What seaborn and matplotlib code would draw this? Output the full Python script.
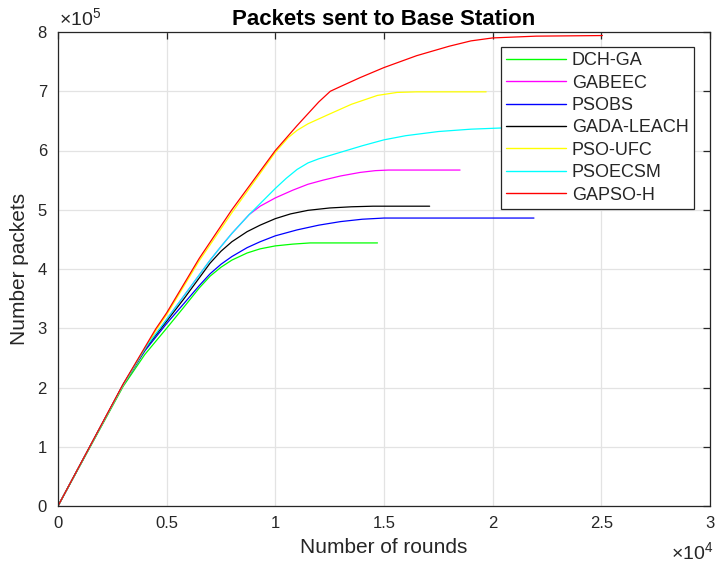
import numpy as np
import pandas as pd
import matplotlib
matplotlib.use("Agg")
import matplotlib.pyplot as plt
from matplotlib.ticker import FuncFormatter
import seaborn as sns

# ---------------- data (rounds, packets) ----------------
methods = ["DCH-GA", "GABEEC", "PSOBS", "GADA-LEACH", "PSO-UFC", "PSOECSM", "GAPSO-H"]
colors = ["#00FF00", "#FF00FF", "#0000FF", "#000000", "#FFFF00", "#00FFFF", "#FF0000"]

dch_x = [0, 3000, 4000, 5000, 5800, 6500, 7000, 7500, 8000, 8700, 9300, 10000, 10800, 11600, 14700]
dch_y = [0, 202000, 256000, 300000, 336000, 368000, 388000, 403000, 415000, 427000, 434000, 439000, 442000, 444000, 444000]

gab_x = [0, 3000, 4000, 5000, 5800, 6500, 7000, 7500, 8000, 8800, 9300, 10000, 10800, 11500, 12200, 13000, 13900, 14600, 15200, 18500]
gab_y = [0, 205000, 266000, 315000, 355000, 390000, 415000, 438000, 460000, 492000, 506000, 520000, 533000, 543000, 550000, 557000, 563000, 566000, 567000, 567000]

pso_x = [0, 3000, 4000, 5000, 5800, 6500, 7000, 7500, 8000, 8700, 9300, 10000, 11000, 12000, 13000, 14000, 15000, 21900]
pso_y = [0, 204000, 262000, 308000, 342000, 372000, 392000, 408000, 421000, 436000, 446000, 456000, 466000, 474000, 480000, 484000, 486000, 486000]

gada_x = [0, 3000, 4000, 5000, 5800, 6500, 7000, 7500, 8000, 8700, 9300, 10000, 10700, 11500, 12500, 13500, 14500, 17100]
gada_y = [0, 205000, 265000, 312000, 350000, 385000, 410000, 430000, 446000, 463000, 474000, 485000, 493000, 499000, 503000, 505000, 506000, 506000]

ufc_x = [0, 3000, 4500, 5000, 6500, 8000, 9000, 10000, 10600, 11000, 11500, 12400, 13500, 14700, 15600, 16500, 19700]
ufc_y = [0, 204000, 296000, 323000, 414000, 495000, 546000, 597000, 622000, 634000, 645000, 660000, 678000, 693000, 698000, 699000, 699000]

ecsm_x = [0, 3000, 4000, 5000, 5800, 6500, 7000, 7500, 8000, 8800, 9400, 10000, 10500, 11000, 11500, 12000, 13000, 14000, 15000, 16000, 17500, 19000, 20400, 22000]
ecsm_y = [0, 205000, 266000, 315000, 355000, 390000, 415000, 438000, 460000, 492000, 514000, 536000, 553000, 568000, 579000, 586000, 597000, 608000, 618000, 625000, 632000, 636000, 638000, 638000]

gapso_x = [0, 3000, 4500, 5000, 6500, 8000, 9000, 10000, 11000, 12000, 12530, 13000, 13900, 15000, 16500, 18000, 19000, 20000, 22000, 25050]
gapso_y = [0, 206000, 299000, 326000, 418000, 500000, 550000, 600000, 642000, 682000, 700000, 708000, 723000, 740000, 760000, 776000, 785000, 790000, 793000, 794000]

series_x = [dch_x, gab_x, pso_x, gada_x, ufc_x, ecsm_x, gapso_x]
series_y = [dch_y, gab_y, pso_y, gada_y, ufc_y, ecsm_y, gapso_y]

x_ticks = [0, 5000, 10000, 15000, 20000, 25000, 30000]
y_ticks = [0, 100000, 200000, 300000, 400000, 500000, 600000, 700000, 800000]

rows = []
for m, xs, ys in zip(methods, series_x, series_y):
    for i, (xv, yv) in enumerate(zip(xs, ys)):
        rows.append({"rounds": xv, "packets": yv, "method": m, "idx": i})
df = pd.DataFrame(rows)

# ---------------- style ----------------
sns.set_style("white")
plt.rcParams["font.family"] = ["Liberation Sans", "DejaVu Sans"]
plt.rcParams["mathtext.fontset"] = "custom"
plt.rcParams["mathtext.rm"] = "Liberation Sans"

fig = plt.figure(figsize=(7.17, 5.73), dpi=100)
ax = fig.add_axes([58 / 717, 1 - 506 / 573, (710 - 58) / 717, (506 - 32) / 573])

sns.lineplot(data=df, x="rounds", y="packets", hue="method", hue_order=methods,
             palette=dict(zip(methods, colors)), sort=False, estimator=None,
             units="method", linewidth=0.9, ax=ax, legend=True)

ax.set_xlim(0, 30000)
ax.set_ylim(0, 800000)
ax.set_xticks(x_ticks)
ax.set_yticks(y_ticks)
ax.xaxis.set_major_formatter(FuncFormatter(lambda v, p: f"{v / 1e4:g}"))
ax.yaxis.set_major_formatter(FuncFormatter(lambda v, p: f"{v / 1e5:g}"))

ax.grid(True, color="#e3e3e3", linewidth=0.9)
ax.set_axisbelow(True)
for s in ax.spines.values():
    s.set_color("#262626")
    s.set_linewidth(0.9)
ax.tick_params(direction="in", top=True, right=True, length=5, width=0.9,
               color="#262626", labelsize=12, labelcolor="#262626")
ax.tick_params(axis="y", pad=8)
ax.tick_params(axis="x", pad=7)

ax.set_title("Packets sent to Base Station", fontsize=16, fontweight="bold", pad=5, color="#000000")
ax.set_xlabel("Number of rounds", fontsize=15, color="#262626", labelpad=5)
ax.set_ylabel("Number packets", fontsize=15, color="#262626", labelpad=6)

ax.text(0.002, 1.006, r"$\mathregular{\times10^{5}}$", transform=ax.transAxes,
        ha="left", va="bottom", fontsize=14, color="#262626")
fig.text(713 / 717, 1 - 563 / 573, r"$\mathregular{\times10^{4}}$",
         ha="right", va="bottom", fontsize=14, color="#262626")

handles, labels = ax.get_legend_handles_labels()
leg = ax.legend(handles, labels, loc="upper right",
                bbox_to_anchor=((694 - 58) / 652, (506 - 46.7) / 474),
                borderaxespad=0, fontsize=13, frameon=True, fancybox=False,
                framealpha=1, edgecolor="#262626", handlelength=3.3,
                handletextpad=0.35, labelspacing=0.3, borderpad=0.3)
leg.get_frame().set_linewidth(0.9)
for line in leg.get_lines():
    line.set_linewidth(1.0)

fig.savefig("out.png", dpi=100)
